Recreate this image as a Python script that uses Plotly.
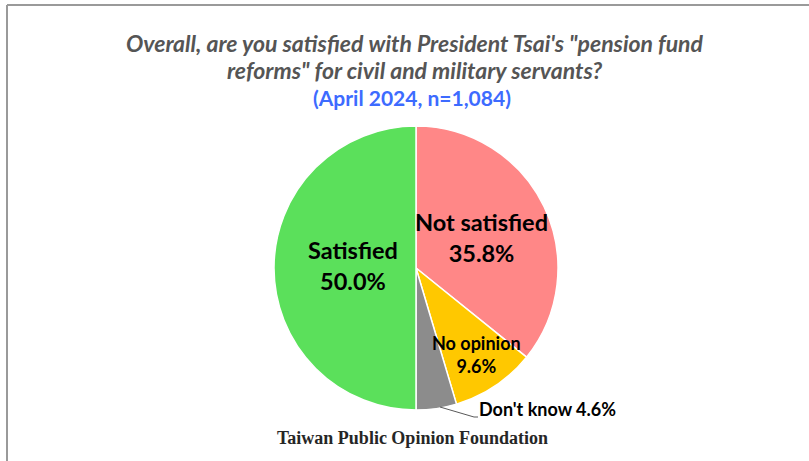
import plotly.graph_objects as go

# Survey answers, clockwise from 12 o'clock
labels = ["Not satisfied", "No opinion", "Don't know", "Satisfied"]
values = [35.8, 9.6, 4.6, 50.0]
colors = ["#FF8787", "#FFC800", "#8C8C8C", "#5BE05B"]

title_lines = ["Overall, are you satisfied with President Tsai's \"pension fund",
               "reforms\" for civil and military servants?"]
subtitle_text = "(April 2024, n=1,084)"
source_text = "Taiwan Public Opinion Foundation"

W, H = 809, 461


def px(x):
    return x / W


def py(y):
    return 1 - y / H


fig = go.Figure(go.Pie(
    labels=labels,
    values=values,
    sort=False,
    direction="clockwise",
    rotation=0,
    marker=dict(colors=colors, line=dict(color="white", width=1.5)),
    textinfo="none",
    hoverinfo="label+percent",
    domain=dict(x=[px(274), px(558)], y=[py(410), py(126)]),
    showlegend=False,
))

fmt = {lab: f"{v:.1f}%" for lab, v in zip(labels, values)}
dk = "Don't know"

annotations = [
    dict(x=px(415), y=py(43), text=f"<b><i>{title_lines[0]}</i></b>", showarrow=False,
         font=dict(family="Lato", size=23, color="#555555"),
         xanchor="center", yanchor="middle"),
    dict(x=px(415), y=py(70), text=f"<b><i>{title_lines[1]}</i></b>", showarrow=False,
         font=dict(family="Lato", size=23, color="#555555"),
         xanchor="center", yanchor="middle"),
    dict(x=px(412), y=py(97), text=f"<b>{subtitle_text}</b>", showarrow=False,
         font=dict(family="Lato", size=21, color="#3D6BFF"),
         xanchor="center", yanchor="middle"),
    dict(x=px(481), y=py(237), text=f"<b>Not satisfied<br>{fmt['Not satisfied']}</b>",
         showarrow=False, font=dict(family="Lato", size=23.5, color="black"),
         xanchor="center", yanchor="middle"),
    dict(x=px(353), y=py(265), text=f"<b>Satisfied<br>{fmt['Satisfied']}</b>",
         showarrow=False, font=dict(family="Lato", size=23.5, color="black"),
         xanchor="center", yanchor="middle"),
    dict(x=px(476), y=py(354), text=f"<b>No opinion<br>{fmt['No opinion']}</b>",
         showarrow=False, font=dict(family="Lato", size=18, color="black"),
         xanchor="center", yanchor="middle"),
    dict(x=px(477), y=py(409), text=f"<b>{dk} {fmt[dk]}</b>",
         showarrow=False, font=dict(family="Lato", size=18, color="black"),
         xanchor="left", yanchor="middle"),
    dict(x=px(413), y=py(438), text=f"<b>{source_text}</b>", showarrow=False,
         font=dict(family="Liberation Serif", size=18, color="#262626"),
         xanchor="center", yanchor="middle"),
]

shapes = [
    # frame edges along the top and left
    dict(type="line", xref="paper", yref="paper", x0=px(7), y0=py(5), x1=1, y1=py(5),
         line=dict(color="#9A9A9A", width=2)),
    dict(type="line", xref="paper", yref="paper", x0=px(7), y0=py(5), x1=px(7), y1=0,
         line=dict(color="#9A9A9A", width=2)),
    # leader line to the small slice
    dict(type="path", xref="paper", yref="paper",
         path=f"M {px(440)},{py(407)} L {px(474)},{py(417)} L {px(478)},{py(417)}",
         line=dict(color="#595959", width=1)),
]

fig.update_layout(
    width=W, height=H,
    margin=dict(l=0, r=0, t=0, b=0),
    paper_bgcolor="white",
    plot_bgcolor="white",
    annotations=annotations,
    shapes=shapes,
)

fig.write_html("out.html")
